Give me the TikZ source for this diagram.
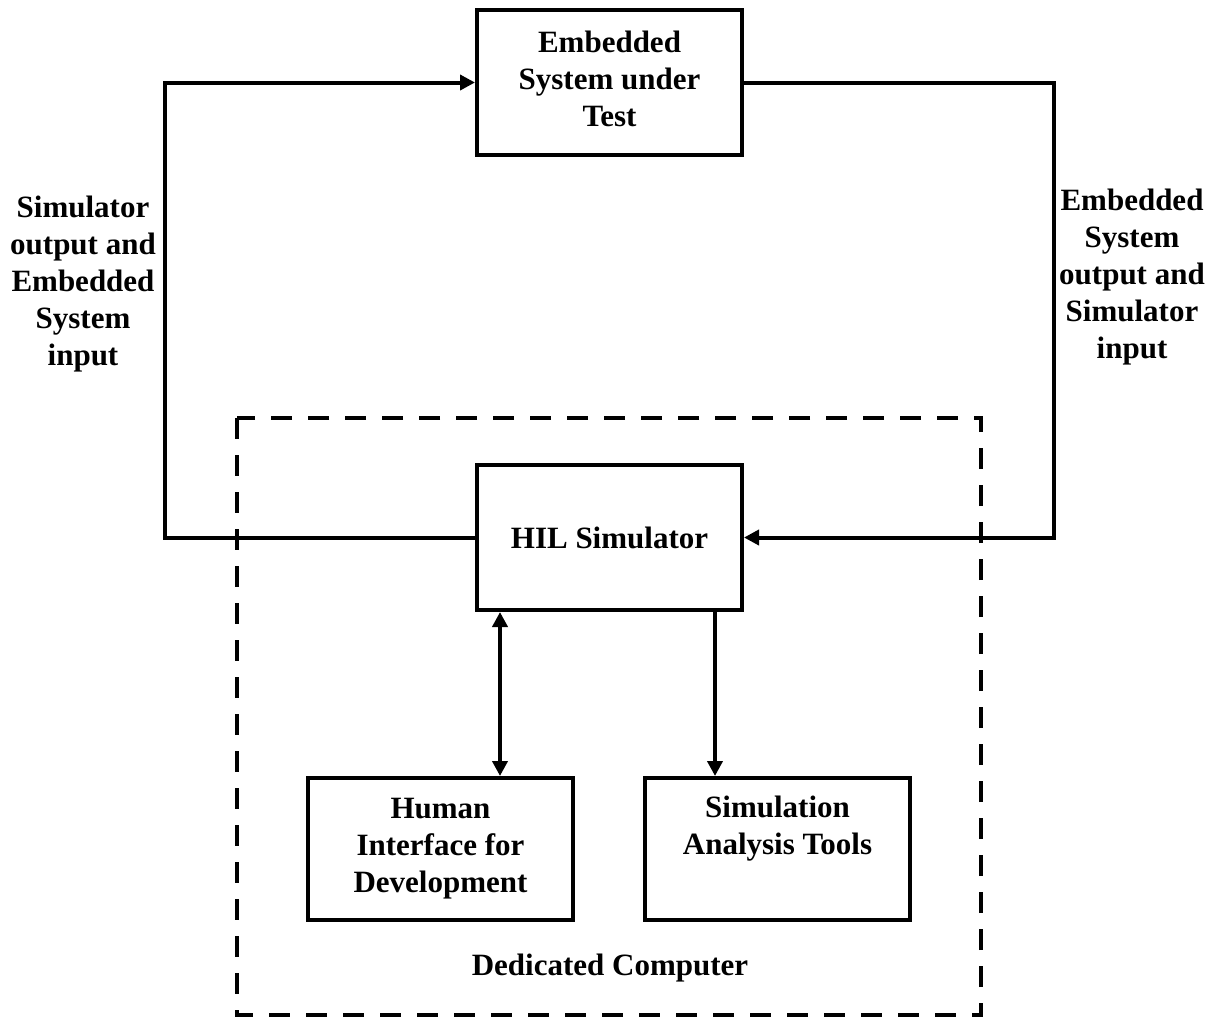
\documentclass[tikz,border=0pt]{standalone}
\usepackage{fontspec}
\setmainfont{Liberation Serif}
\usetikzlibrary{arrows.meta}
\begin{document}
\begin{tikzpicture}[x=0.5pt,y=-0.5pt,
  every node/.style={font=\fontsize{15.5pt}{18.5pt}\selectfont\bfseries, align=center},
  blk/.style={draw, line width=2pt, minimum width=132.5pt, minimum height=72.5pt, inner sep=0pt},
  wire/.style={line width=2pt},
  tip/.style={},
  arr/.style={wire, -{Triangle[length=7.5pt,width=7.5pt]}},
  arrboth/.style={wire, {Triangle[length=7.5pt,width=7.5pt]}-{Triangle[length=7.5pt,width=7.5pt]}},
  frame/.style={line width=2pt, dash pattern=on 10.5pt off 8pt}]
\useasboundingbox (0,0) rectangle (1215,1019);

% dedicated computer enclosure
\draw[frame] (237,418) rectangle (981,1015);
\node (dc) at (610,968) {Dedicated Computer};

% blocks
\node[blk] (sut) at (609.5,82.5) {};
\node (sutlbl) at (609.5,79) {Embedded\\System under\\Test};
\node[blk] (hil) at (609.5,537.5) {HIL Simulator};
\node[blk, minimum height=71pt] (hmi) at (440.5,849) {Human\\Interface for\\Development};
\node[blk, minimum height=71pt] (sat) at (777.5,849) {Simulation\\Analysis Tools\\\strut};

% loop between simulator and system under test
\draw[arr] (hil.west) -- ++(-310,0) |- (sut.west);
\draw[arr] (sut.east) -- ++(310,0) |- (hil.east);

% links inside the dedicated computer
\coordinate (xh) at (500,0);
\coordinate (xs) at (715,0);
\draw[arrboth] (hil.south -| xh) -- (hmi.north -| xh);
\draw[arr] (hil.south -| xs) -- (sat.north -| xs);

% signal labels
\node (lin) at (83,284) {Simulator\\output and\\Embedded\\System\\input};
\node (lout) at (1132,277) {Embedded\\System\\output and\\Simulator\\input};
\end{tikzpicture}
\end{document}
